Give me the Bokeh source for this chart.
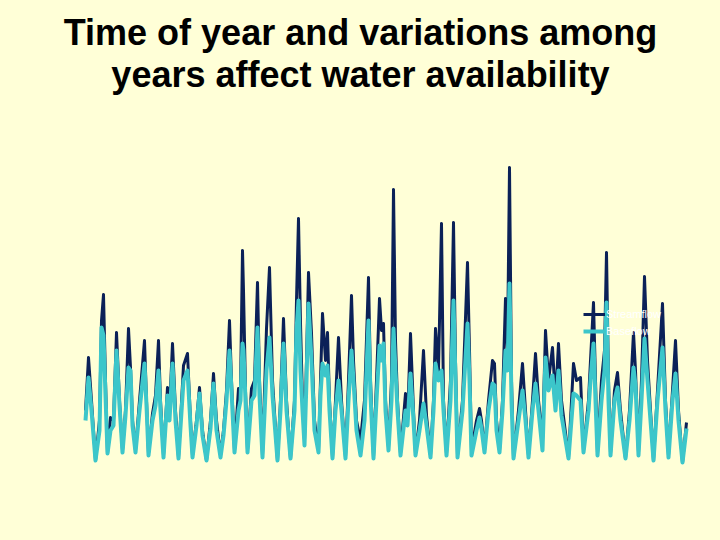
from bokeh.plotting import figure
from bokeh.models import Range1d, Legend, LegendItem, ColumnDataSource
from bokeh.core.properties import value
from bokeh.embed import file_html
from bokeh.resources import INLINE
from jinja2 import Template

BG = "#FFFFD7"
DARK = "#0B2158"
CYAN = "#3CC6CA"

# time step index (~26-day steps) of each sample
step = [0, 3, 6, 10, 14, 16, 18, 20, 22, 25, 28, 31, 34, 37, 40, 43, 45, 47, 50, 54,
        59, 61, 63, 67, 70, 73, 75, 78, 82, 84, 87, 90, 93, 98, 102, 105, 107, 111, 114, 117,
        121, 125, 128, 131, 135, 138, 141, 144, 146, 149, 153, 155, 157, 158, 160, 162, 166, 169, 172, 174,
        177, 181, 184, 187, 192, 195, 198, 201, 205, 209, 211, 213, 215, 217, 219, 221, 223, 226, 229, 233,
        235, 237, 240, 242, 244, 247, 250, 253, 256, 260, 263, 266, 268, 271, 275, 279, 283, 285, 288, 291,
        294, 296, 298, 300, 303, 306, 308, 310, 312, 315, 320, 322, 325, 328, 330, 334, 338, 341, 345, 348,
        350, 353, 356, 358, 361, 365, 368, 370, 372, 377, 382, 384, 386, 391, 394, 396, 399, 403, 407, 409,
        411, 414, 417, 420, 422, 424, 426, 428, 433, 437, 440, 443, 447, 450, 453, 457, 460, 463, 467, 470,
        473, 476, 483, 488, 491, 495, 498, 503, 505, 508, 510, 512, 516, 519, 521, 523, 525, 529, 532, 535,
        540, 544, 548, 550, 553, 556, 559, 562, 565, 568, 572, 577, 580, 583, 587, 590, 593, 597, 601]

streamflow = [55, 108, 65, 5, 45, 145, 171, 85, 12, 48, 45, 133, 65, 15, 55, 137, 98, 45, 15, 65,
              125, 65, 12, 52, 70, 125, 65, 10, 78, 55, 122, 55, 8, 100, 112, 45, 10, 45, 78, 35,
              5, 45, 92, 45, 10, 35, 75, 145, 85, 15, 77, 75, 215, 175, 75, 15, 77, 85, 183, 85,
              10, 137, 198, 85, 5, 65, 147, 65, 7, 65, 165, 247, 142, 65, 25, 105, 193, 132, 45, 15,
              85, 152, 105, 133, 65, 8, 65, 128, 65, 8, 85, 170, 105, 45, 25, 65, 188, 85, 8, 85,
              167, 135, 142, 65, 18, 85, 276, 125, 65, 12, 72, 45, 132, 55, 12, 45, 115, 50, 10, 65,
              137, 95, 242, 65, 12, 85, 243, 105, 10, 65, 203, 115, 15, 45, 57, 45, 15, 65, 105, 102,
              45, 15, 65, 167, 115, 298, 85, 8, 55, 102, 55, 10, 65, 112, 65, 25, 135, 85, 118, 65,
              122, 65, 8, 102, 85, 88, 15, 65, 105, 163, 85, 12, 85, 115, 213, 85, 12, 75, 93, 55,
              7, 55, 133, 95, 13, 85, 189, 105, 55, 5, 75, 162, 65, 10, 75, 125, 55, 3, 43]

baseflow = [45, 88, 55, 5, 35, 138, 130, 70, 12, 35, 40, 115, 60, 13, 50, 98, 95, 40, 13, 55,
            102, 60, 10, 45, 60, 95, 55, 8, 70, 45, 102, 45, 7, 85, 95, 40, 8, 40, 72, 30,
            5, 37, 82, 35, 8, 30, 65, 115, 75, 13, 55, 65, 122, 115, 65, 13, 65, 70, 138, 70,
            8, 95, 128, 70, 5, 55, 122, 55, 7, 55, 135, 165, 95, 55, 20, 85, 162, 105, 35, 13,
            70, 102, 90, 100, 55, 7, 55, 85, 55, 7, 65, 115, 85, 35, 10, 45, 145, 70, 7, 65,
            120, 105, 122, 55, 15, 65, 137, 95, 55, 10, 55, 40, 92, 45, 10, 35, 62, 40, 8, 55,
            102, 85, 95, 55, 10, 65, 165, 85, 8, 55, 142, 85, 10, 35, 48, 37, 13, 55, 82, 80,
            35, 13, 55, 115, 95, 182, 65, 7, 45, 75, 45, 8, 55, 82, 55, 15, 108, 75, 90, 55,
            95, 50, 7, 72, 70, 65, 13, 55, 85, 122, 65, 10, 65, 95, 163, 65, 10, 65, 78, 45,
            7, 45, 98, 80, 10, 65, 127, 85, 45, 5, 65, 118, 55, 8, 65, 92, 45, 3, 37]

title_lines = ["Time of year and variations among", "years affect water availability"]
series_names = ["Streamflow", "Baseflow"]

src = ColumnDataSource(dict(step=step, streamflow=streamflow, baseflow=baseflow))

p = figure(width=704, height=524, output_backend="svg", toolbar_location=None,
           x_range=Range1d(-77, 627), y_range=Range1d(-67, 457),
           min_border=0, min_border_left=0, min_border_right=0,
           min_border_top=0, min_border_bottom=0)
p.axis.visible = False
p.grid.visible = False
p.outline_line_color = None
p.background_fill_color = BG
p.border_fill_color = BG

r1 = p.line("step", "streamflow", source=src, line_color=DARK, line_width=3, line_join="round")
r2 = p.line("step", "baseflow", source=src, line_color=CYAN, line_width=4, line_join="round")

tsrc = ColumnDataSource(dict(x=[275, 275], y=[433, 391], t=title_lines))
p.text("x", "y", text="t", source=tsrc, text_font=value("Liberation Sans"),
       text_font_size="36px", text_font_style="bold", text_color="black",
       text_align="center", text_baseline="alphabetic")

legend = Legend(items=[LegendItem(label=series_names[0], renderers=[r1]),
                       LegendItem(label=series_names[1], renderers=[r2])],
                location=(575, 194), background_fill_alpha=0, border_line_color=None,
                label_text_color="white", label_text_font_size="11px",
                label_text_font="Liberation Sans",
                glyph_width=22, glyph_height=14, label_height=14, spacing=3,
                padding=0, margin=0, label_standoff=1)
p.add_layout(legend)

template = Template("""<!DOCTYPE html>
<html lang="en">
<head>
<meta charset="utf-8">
<title>{{ title }}</title>
{{ bokeh_css }}
{{ bokeh_js }}
<style>html, body { margin: 0; padding: 0; background: #FFFFD7; } body { padding: 8px; }</style>
</head>
<body>
{{ plot_div | safe }}
{{ plot_script | safe }}
</body>
</html>
""")

open("out.html", "w").write(file_html(p, INLINE, template=template))
